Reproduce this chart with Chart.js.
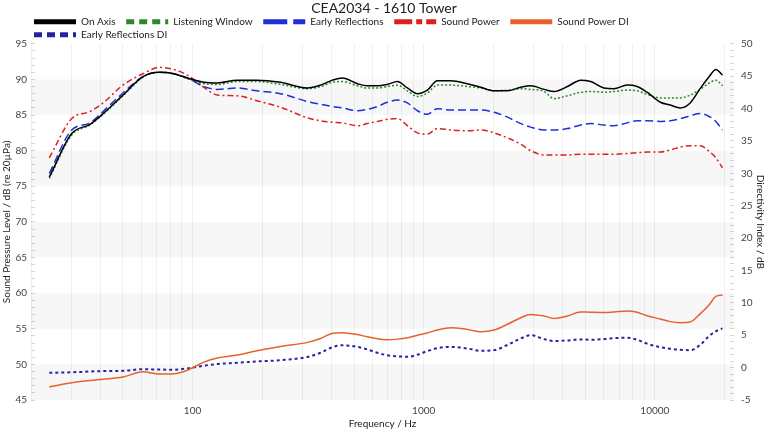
<!DOCTYPE html>
<html>
<head>
<meta charset="utf-8">
<title>CEA2034 - 1610 Tower</title>
<script src="https://cdn.jsdelivr.net/npm/chart.js@4.4.1/dist/chart.umd.min.js"></script>
<style>
  html,body{margin:0;padding:0;background:#fff;}
  #wrap{width:768px;height:432px;}
</style>
</head>
<body>
<div id="wrap"><canvas id="spin" width="768" height="432"></canvas></div>
<script>
/* =========================
   Data
========================= */
const freqHz = [24,30,36,41,50,61,72,83,95,112,128,156,190,240,314,358,403,445,517,570,
  630,696,770,850,939,1037,1146,1309,1546,1765,2016,2303,2631,2902,3318,3665,4185,4779,5275,6023,
  6650,7594,8382,9254,10569,11667,12880,14220,15700,17190,18360,19620];

const onAxis = [76.3,82.4,83.7,85.2,87.8,90.4,91.0,90.8,90.2,89.6,89.5,89.9,89.9,89.6,88.8,89.2,89.9,90.2,89.4,89.1,
  89.1,89.3,89.7,88.8,88.0,88.5,89.8,89.8,89.4,88.9,88.4,88.4,88.9,89.1,88.6,88.3,89.0,89.9,89.7,88.8,
  88.7,89.2,89.0,88.2,86.8,86.4,86.0,86.7,88.7,90.4,91.4,90.6];

const listeningWindow = [76.1,82.2,83.6,85.1,87.7,90.3,91.0,90.8,90.1,89.4,89.3,89.7,89.7,89.3,88.7,89.0,89.6,89.7,89.1,88.8,
  88.8,89.0,89.2,88.4,87.6,88.1,89.2,89.2,89.0,88.8,88.4,88.5,88.7,88.6,88.3,87.3,87.7,88.2,88.3,88.2,
  88.3,88.5,88.4,87.9,87.4,87.4,87.4,87.8,88.6,89.5,89.9,89.1];

const earlyReflections = [76.8,82.9,83.9,85.5,88.1,90.4,91.0,90.8,90.2,89.0,88.6,88.8,88.4,88.0,86.9,86.5,86.2,86.0,85.6,85.8,
  86.2,86.8,87.1,86.7,85.6,85.1,85.9,85.7,85.7,85.7,85.4,84.7,83.8,83.3,82.9,82.9,83.1,83.6,83.8,83.6,
  83.5,83.9,84.2,84.2,84.1,84.2,84.5,84.9,85.2,84.8,84.1,82.9];

const soundPower = [79.0,84.5,85.5,86.7,89.2,90.8,91.7,91.4,90.6,88.9,87.8,87.7,87.0,86.1,84.6,84.2,84.0,83.9,83.5,83.8,
  84.1,84.4,84.5,83.5,82.5,82.3,83.1,82.9,82.8,82.9,82.5,81.8,80.9,80.0,79.4,79.4,79.4,79.5,79.5,79.5,
  79.5,79.6,79.7,79.8,79.8,80.1,80.5,80.7,80.7,79.9,79.0,77.6];

const soundPowerDI = [-3.0,-2.35,-2.0,-1.8,-1.45,-0.65,-1.0,-0.95,-0.4,0.85,1.5,1.95,2.6,3.25,3.9,4.5,5.3,5.4,5.1,4.75,
  4.45,4.3,4.4,4.6,5.0,5.35,5.8,6.15,5.9,5.55,5.8,6.7,7.7,8.2,7.96,7.6,7.96,8.6,8.55,8.5,
  8.6,8.75,8.55,8.0,7.5,7.1,6.93,7.05,8.3,9.7,11.0,11.2];

const earlyReflectionsDI = [-0.8,-0.72,-0.6,-0.54,-0.5,-0.25,-0.3,-0.32,-0.12,0.3,0.55,0.75,0.95,1.15,1.65,2.29,3.15,3.45,3.2,2.8,
  2.3,1.9,1.75,1.67,2.0,2.55,3.0,3.2,2.95,2.6,2.7,3.5,4.5,5.0,4.4,4.1,4.2,4.35,4.3,4.4,
  4.55,4.6,4.3,3.7,3.15,2.9,2.75,2.7,3.5,4.9,5.6,6.05];

// axis ranges, grid & labels
const xMin = 20, xMax = 22000;
const xGridHz = [20,30,40,50,60,70,80,90,100,200,300,400,500,600,700,800,900,
  1000,2000,3000,4000,5000,6000,7000,8000,9000,10000,20000];
const xLabelHz = [100,1000,10000];
const splRange = [45,95];
const diRange = [-5,50];
const bandRanges = [[45,50],[55,60],[65,70],[75,80],[85,90]];

/* =========================
   Helpers
========================= */
const FONT = 'Lato, "Noto Sans", sans-serif';
const pts = vals => freqHz.map((f,i) => ({x:f, y:vals[i]}));

function series(label, vals, color, dash, legendDash, axis, width){
  return {
    label, data: pts(vals), yAxisID: axis,
    borderColor: color, backgroundColor: color,
    borderWidth: width || 1.5, borderDash: dash, legendDash,
    pointRadius: 0, fill: false, cubicInterpolationMode: 'monotone', order: 0
  };
}

const bands = bandRanges.map(([lo,hi]) => ({
  label: 'band', isBand: true, yAxisID: 'y',
  data: [{x:xMin, y:hi},{x:xMax, y:hi}],
  borderWidth: 0, pointRadius: 0,
  backgroundColor: 'rgba(0,0,0,0.032)',
  fill: {value: lo}, order: 10
}));

/* =========================
   Legend placement tweak (two left-aligned rows)
========================= */
const legendLayout = {
  id: 'legendLayout',
  beforeLayout(chart){
    const lg = chart.legend;
    if(!lg || lg._patched) return;
    const fit = lg.fit;
    lg.fit = function(){ fit.call(this); this.height = 30; };
    lg._patched = true;
  },
  afterLayout(chart){
    chart.legend.left = 31;
    chart.legend.right = 730;
  }
};

/* =========================
   Chart
========================= */
new Chart(document.getElementById('spin'), {
  type: 'line',
  data: {
    datasets: [
      series('On Axis', onAxis, '#000000', [], [], 'y'),
      series('Listening Window', listeningWindow, '#2a8a2a', [2,2], [8,5], 'y'),
      series('Early Reflections', earlyReflections, '#1f2fd8', [8,4], [24,6], 'y'),
      series('Sound Power', soundPower, '#dd1f1f', [6,3,2,3], [18,4,6,4], 'y'),
      series('Sound Power DI', soundPowerDI, '#e8612c', [], [], 'y1'),
      series('Early Reflections DI', earlyReflectionsDI, '#2424a0', [3,3], [8,5], 'y1', 2),
      ...bands
    ]
  },
  plugins: [legendLayout],
  options: {
    responsive: false,
    animation: false,
    layout: { padding: 0 },
    plugins: {
      title: {
        display: true, text: 'CEA2034 - 1610 Tower', color: '#222',
        font: { family: FONT, size: 14, weight: 'normal' },
        padding: { top: 0, bottom: -3 }
      },
      legend: {
        display: true, align: 'start',
        labels: {
          color: '#222', padding: 3,
          font: { family: FONT, size: 10 },
          usePointStyle: true, pointStyleWidth: 42,
          generateLabels(chart){
            const items = Chart.defaults.plugins.legend.labels.generateLabels(chart);
            return items.filter(it => !chart.data.datasets[it.datasetIndex].isBand).map(it => {
              const ds = chart.data.datasets[it.datasetIndex];
              it.lineWidth = 5;
              it.lineDash = ds.legendDash;
              it.strokeStyle = ds.borderColor;
              it.pointStyle = 'line';
              it.text = it.text + '   ';
              return it;
            });
          }
        }
      },
      tooltip: { enabled: false }
    },
    scales: {
      x: {
        type: 'logarithmic', min: xMin, max: xMax,
        afterBuildTicks(s){ s.ticks = xGridHz.map(v => ({value: v})); },
        afterFit(s){ s.height = 32; },
        grid: { color: '#f0f0f0', drawTicks: false },
        border: { display: false },
        ticks: {
          autoSkip: false, maxRotation: 0, padding: 5, color: '#444',
          font: { family: FONT, size: 10 },
          callback: v => xLabelHz.includes(v) ? String(v) : ''
        },
        title: {
          display: true, text: 'Frequency / Hz', color: '#222',
          font: { family: FONT, size: 10 }, padding: { top: 0, bottom: 2 }
        }
      },
      y: {
        position: 'left', min: splRange[0], max: splRange[1], z: 1,
        afterFit(s){ s.width = 31; },
        grid: { drawOnChartArea: false, tickLength: -4, color: '#d6d6d6' },
        border: { display: false },
        ticks: {
          stepSize: 1, autoSkip: false, padding: 8, color: '#444',
          font: { family: FONT, size: 10 },
          callback: v => v % 5 === 0 ? v : ''
        },
        title: {
          display: true, text: 'Sound Pressure Level / dB (re 20µPa)', color: '#222',
          font: { family: FONT, size: 10 }, padding: { top: 1, bottom: 0 }
        }
      },
      y1: {
        position: 'right', min: diRange[0], max: diRange[1], z: 1,
        afterFit(s){ s.width = 34; },
        grid: { drawOnChartArea: false, tickLength: -4, color: '#d6d6d6' },
        border: { display: false },
        ticks: {
          stepSize: 1, autoSkip: false, padding: 11, color: '#444',
          font: { family: FONT, size: 10 },
          callback: v => v % 5 === 0 ? v : ''
        },
        title: {
          display: true, text: 'Directivity Index / dB', color: '#222',
          font: { family: FONT, size: 10 }, padding: { top: 2, bottom: 0 }
        }
      }
    }
  }
});
</script>
</body>
</html>
